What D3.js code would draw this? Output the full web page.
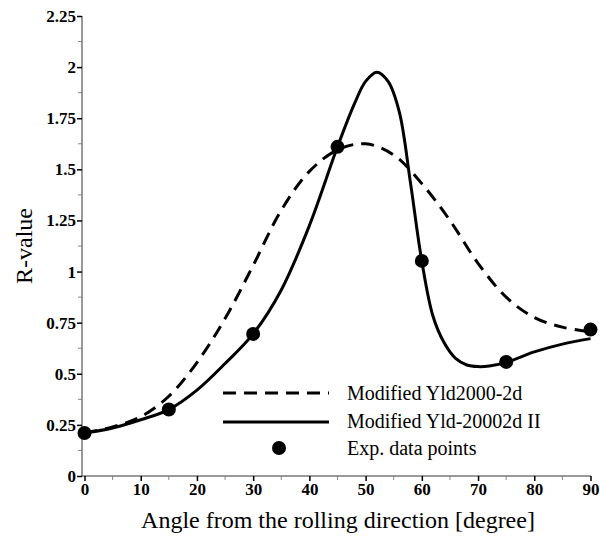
<!DOCTYPE html>
<html>
<head>
<meta charset="utf-8">
<script src="https://cdn.jsdelivr.net/npm/d3@7"></script>
<style>
  body { margin: 0; background: #fff; }
  svg { display: block; font-family: "Liberation Serif", "Times New Roman", serif; }
</style>
</head>
<body>
<div id="chart"></div>
<script>
// experimental points
var expAngle = [0, 15, 30, 45, 60, 75, 90];
var expR = [0.21, 0.325, 0.695, 1.61, 1.052, 0.558, 0.716];

// Modified Yld2000-2d (dashed)
var dashAngle = [0, 5, 10, 15, 20, 25, 30, 35, 40, 45, 50, 55, 60, 65, 70, 75, 80, 85, 90];
var dashR = [0.21, 0.24, 0.29, 0.39, 0.555, 0.77, 1.03, 1.30, 1.49, 1.595, 1.625, 1.57, 1.43, 1.25, 1.04, 0.875, 0.775, 0.728, 0.705];

// Modified Yld-20002d II (solid)
var solidAngle = [0, 5, 10, 15, 20, 25, 30, 35, 40, 45, 48, 50, 52, 54, 56, 58, 60, 62, 64, 66, 68, 70, 72, 75, 80, 85, 90];
var solidR = [0.21, 0.235, 0.275, 0.325, 0.42, 0.55, 0.695, 0.91, 1.225, 1.61, 1.82, 1.93, 1.975, 1.93, 1.78, 1.43, 1.05, 0.78, 0.65, 0.575, 0.543, 0.535, 0.538, 0.556, 0.607, 0.645, 0.672];

var xTicks = [0, 10, 20, 30, 40, 50, 60, 70, 80, 90];
var yTicks = [0, 0.25, 0.5, 0.75, 1, 1.25, 1.5, 1.75, 2, 2.25];
var yTickLabels = ['0', '0.25', '0.5', '0.75', '1', '1.25', '1.5', '1.75', '2', '2.25'];

var legendNames = ['Modified Yld2000-2d', 'Modified Yld-20002d II', 'Exp. data points'];

var width = 600, height = 538;

var x = d3.scaleLinear().domain([0, 90]).range([84.5, 590.5]);
var y = d3.scaleLinear().domain([0, 2.25]).range([476, 16]);

var svg = d3.select('#chart')
    .append('svg')
    .attr('width', width)
    .attr('height', height);

// minor ticks
svg.append('g')
    .selectAll('line')
    .data(d3.range(5, 90, 10))
    .enter()
    .append('line')
    .attr('x1', d => x(d)).attr('x2', d => x(d))
    .attr('y1', 476).attr('y2', 480)
    .style('stroke', '#888').style('stroke-width', 1);

svg.append('g')
    .selectAll('line')
    .data(d3.range(0.125, 2.25, 0.25))
    .enter()
    .append('line')
    .attr('x1', 78).attr('x2', 82)
    .attr('y1', d => y(d)).attr('y2', d => y(d))
    .style('stroke', '#888').style('stroke-width', 1);

// axis lines
svg.append('line')
    .attr('x1', 82).attr('x2', 82)
    .attr('y1', y(2.25)).attr('y2', 477)
    .style('stroke', '#777').style('stroke-width', 1.5);
svg.append('line')
    .attr('x1', 81).attr('x2', 591)
    .attr('y1', 476).attr('y2', 476)
    .style('stroke', '#777').style('stroke-width', 1.5);

// major ticks and labels
var xAxis = d3.axisBottom(x).tickValues(xTicks).tickSize(5).tickPadding(2);
var gx = svg.append('g').attr('transform', 'translate(0,476)').call(xAxis);
gx.select('.domain').remove();
gx.selectAll('line').style('stroke', '#000').style('stroke-width', 1.5);
gx.selectAll('text')
    .style('font-family', '"Liberation Serif", serif')
    .style('font-size', '17px')
    .style('font-weight', 'bold')
    .attr('fill', '#000');

var yAxis = d3.axisLeft(y).tickValues(yTicks)
    .tickFormat((d, i) => yTickLabels[i]).tickSize(5).tickPadding(1);
var gy = svg.append('g').attr('transform', 'translate(82,0)').call(yAxis);
gy.select('.domain').remove();
gy.selectAll('line').style('stroke', '#000').style('stroke-width', 1.5);
gy.selectAll('text')
    .style('font-family', '"Liberation Serif", serif')
    .style('font-size', '17px')
    .style('font-weight', 'bold')
    .attr('fill', '#000');

// axis titles
svg.append('text')
    .text('Angle from the rolling direction [degree]')
    .attr('x', 338)
    .attr('y', 528)
    .attr('text-anchor', 'middle')
    .style('font-size', '24px')
    .attr('fill', '#000');

svg.append('text')
    .text('R-value')
    .attr('transform', 'translate(32,246) rotate(-90)')
    .attr('text-anchor', 'middle')
    .style('font-size', '24px')
    .attr('fill', '#000');

// curves
var line = d3.line()
    .x(d => x(d[0]))
    .y(d => y(d[1]))
    .curve(d3.curveCatmullRom.alpha(0.5));

svg.append('path')
    .datum(dashAngle.map((a, i) => [a, dashR[i]]))
    .attr('d', line)
    .attr('fill', 'none')
    .style('stroke', '#000')
    .style('stroke-width', 3)
    .style('stroke-dasharray', '13,8');

svg.append('path')
    .datum(solidAngle.map((a, i) => [a, solidR[i]]))
    .attr('d', line)
    .attr('fill', 'none')
    .style('stroke', '#000')
    .style('stroke-width', 3);

svg.append('g')
    .selectAll('circle')
    .data(expAngle)
    .enter()
    .append('circle')
    .attr('cx', d => x(d))
    .attr('cy', (d, i) => y(expR[i]))
    .attr('r', 7)
    .attr('fill', '#000');

// legend
var legend = svg.append('g');
legend.append('line')
    .attr('x1', 223).attr('x2', 329)
    .attr('y1', 393).attr('y2', 393)
    .style('stroke', '#000').style('stroke-width', 3)
    .style('stroke-dasharray', '13,8');
legend.append('line')
    .attr('x1', 223).attr('x2', 329)
    .attr('y1', 422).attr('y2', 422)
    .style('stroke', '#000').style('stroke-width', 3);
legend.append('circle')
    .attr('cx', 279).attr('cy', 448)
    .attr('r', 7)
    .attr('fill', '#000');

legend.selectAll('text')
    .data(legendNames)
    .enter()
    .append('text')
    .text(d => d)
    .attr('x', 347)
    .attr('y', (d, i) => 400 + i * 27.5)
    .style('font-size', '20px')
    .attr('fill', '#000');
</script>
</body>
</html>
